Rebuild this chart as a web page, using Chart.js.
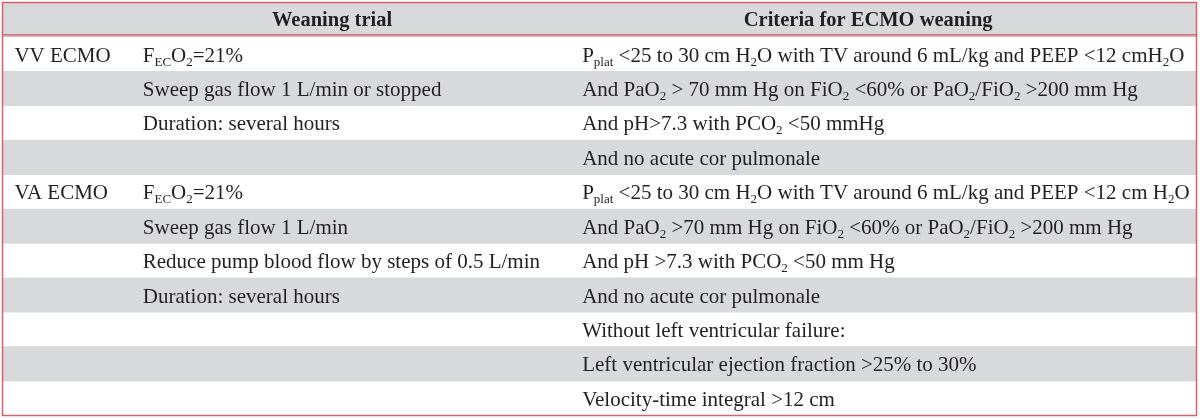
<!DOCTYPE html>
<html lang="en">
<head>
  <meta charset="UTF-8">
  <title>Criteria for ECMO weaning</title>
  <script src="https://cdn.jsdelivr.net/npm/chart.js"></script>
  <style>
    body {
      margin: 0;
      background-color: #ffffff;
    }

    .chart-container {
      width: 1200px;
      height: 419px;
    }
  </style>
</head>
<body>
  <div class="chart-container">
    <canvas id="weaningTable"></canvas>
  </div>

  <script>
    // table content (_{..} marks a subscript)
    const headers = ['Weaning trial', 'Criteria for ECMO weaning'];

    const modeLabels = ['VV ECMO', '', '', '', 'VA ECMO', '', '', '', '', '', ''];

    const trialSteps = [
      'F_{EC}O_{2}=21%',
      'Sweep gas flow 1 L/min or stopped',
      'Duration: several hours',
      '',
      'F_{EC}O_{2}=21%',
      'Sweep gas flow 1 L/min',
      'Reduce pump blood flow by steps of 0.5 L/min',
      'Duration: several hours',
      '',
      '',
      ''
    ];

    const criteria = [
      'P_{plat} <25 to 30 cm H_{2}O with TV around 6 mL/kg and PEEP <12 cmH_{2}O',
      'And PaO_{2} > 70 mm Hg on FiO_{2} <60% or PaO_{2}/FiO_{2} >200 mm Hg',
      'And pH>7.3 with PCO_{2} <50 mmHg',
      'And no acute cor pulmonale',
      'P_{plat} <25 to 30 cm H_{2}O with TV around 6 mL/kg and PEEP <12 cm H_{2}O',
      'And PaO_{2} >70 mm Hg on FiO_{2} <60% or PaO_{2}/FiO_{2} >200 mm Hg',
      'And pH >7.3 with PCO_{2} <50 mm Hg',
      'And no acute cor pulmonale',
      'Without left ventricular failure:',
      'Left ventricular ejection fraction >25% to 30%',
      'Velocity-time integral >12 cm'
    ];

    // header row + body rows on the category axis
    const rowKeys = ['header'].concat(criteria.map((_, i) => 'row' + (i + 1)));

    // column anchors on the 0..100 x scale
    const COL_X = [1, 11.75, 48.55];
    const HEAD_X = [27.6, 72.5];

    const FONT_FAMILY = '"Liberation Serif", "Times New Roman", serif';
    const TEXT_COLOR = '#231f20';
    const BODY_SIZE = 21;
    const HEAD_SIZE = 20.5;

    function parseRich(str) {
      const parts = [];
      const re = /_\{([^}]*)\}/g;
      let last = 0, m;
      while ((m = re.exec(str)) !== null) {
        if (m.index > last) parts.push({ t: str.slice(last, m.index), sub: false });
        parts.push({ t: m[1], sub: true });
        last = re.lastIndex;
      }
      if (last < str.length) parts.push({ t: str.slice(last), sub: false });
      return parts;
    }

    function drawRich(ctx, str, x, y, size, bold, align) {
      const parts = parseRich(str);
      const mainFont = (bold ? 'bold ' : '') + size + 'px ' + FONT_FAMILY;
      const subFont = Math.round(size * 0.6) + 'px ' + FONT_FAMILY;
      let total = 0;
      parts.forEach(p => {
        ctx.font = p.sub ? subFont : mainFont;
        p.w = ctx.measureText(p.t).width;
        total += p.w;
      });
      let cx = align === 'center' ? x - total / 2 : x;
      ctx.textAlign = 'left';
      ctx.textBaseline = 'alphabetic';
      ctx.fillStyle = TEXT_COLOR;
      parts.forEach(p => {
        ctx.font = p.sub ? subFont : mainFont;
        ctx.fillText(p.t, cx, p.sub ? y + 4 : y);
        cx += p.w;
      });
    }

    const tablePlugin = {
      id: 'tableText',
      afterDatasetsDraw(chart) {
        const { ctx, chartArea, scales } = chart;
        const xs = scales.x, ys = scales.y;
        ctx.save();

        // header
        const hy = ys.getPixelForValue(0) + 6.5;
        headers.forEach((h, i) => {
          drawRich(ctx, h, xs.getPixelForValue(HEAD_X[i]), hy, HEAD_SIZE, true, 'center');
        });

        // body
        criteria.forEach((c, i) => {
          const y = ys.getPixelForValue(i + 1) + 7.5;
          if (modeLabels[i]) drawRich(ctx, modeLabels[i], xs.getPixelForValue(COL_X[0]), y, BODY_SIZE, false, 'left');
          if (trialSteps[i]) drawRich(ctx, trialSteps[i], xs.getPixelForValue(COL_X[1]), y, BODY_SIZE, false, 'left');
          if (c) drawRich(ctx, c, xs.getPixelForValue(COL_X[2]), y, BODY_SIZE, false, 'left');
        });

        // rule under the header
        const lineY = (ys.getPixelForValue(0) + ys.getPixelForValue(1)) / 2 - 2.5;
        ctx.strokeStyle = '#b5394a';
        ctx.lineWidth = 1;
        ctx.beginPath();
        ctx.moveTo(chartArea.left, lineY + 0.5);
        ctx.lineTo(chartArea.right, lineY + 0.5);
        ctx.stroke();
        ctx.strokeStyle = '#e6939b';
        ctx.beginPath();
        ctx.moveTo(chartArea.left, lineY + 1.5);
        ctx.lineTo(chartArea.right, lineY + 1.5);
        ctx.stroke();

        // outer frame
        ctx.strokeStyle = '#d5636f';
        ctx.lineWidth = 1.5;
        ctx.strokeRect(chartArea.left, chartArea.top, chartArea.right - chartArea.left, chartArea.bottom - chartArea.top);
        ctx.restore();
      }
    };

    const ctx = document.getElementById('weaningTable').getContext('2d');

    const weaningTable = new Chart(ctx, {
      type: 'bar',
      data: {
        labels: rowKeys,
        datasets: [{
          label: 'Row shading',
          // header and every second body row are shaded
          data: rowKeys.map((_, i) => (i % 2 === 0 ? [0, 100] : null)),
          backgroundColor: '#d8d9db',
          borderWidth: 0,
          barPercentage: 1,
          categoryPercentage: 1
        }]
      },
      options: {
        indexAxis: 'y',
        responsive: true,
        maintainAspectRatio: false,
        animation: false,
        layout: { padding: { left: 2.5, right: 3.5, top: 2.5, bottom: 3.5 } },
        plugins: {
          legend: { display: false },
          tooltip: { enabled: false }
        },
        scales: {
          x: { type: 'linear', min: 0, max: 100, display: false },
          y: { type: 'category', display: false, grid: { display: false } }
        }
      },
      plugins: [tablePlugin]
    });
  </script>
</body>
</html>
